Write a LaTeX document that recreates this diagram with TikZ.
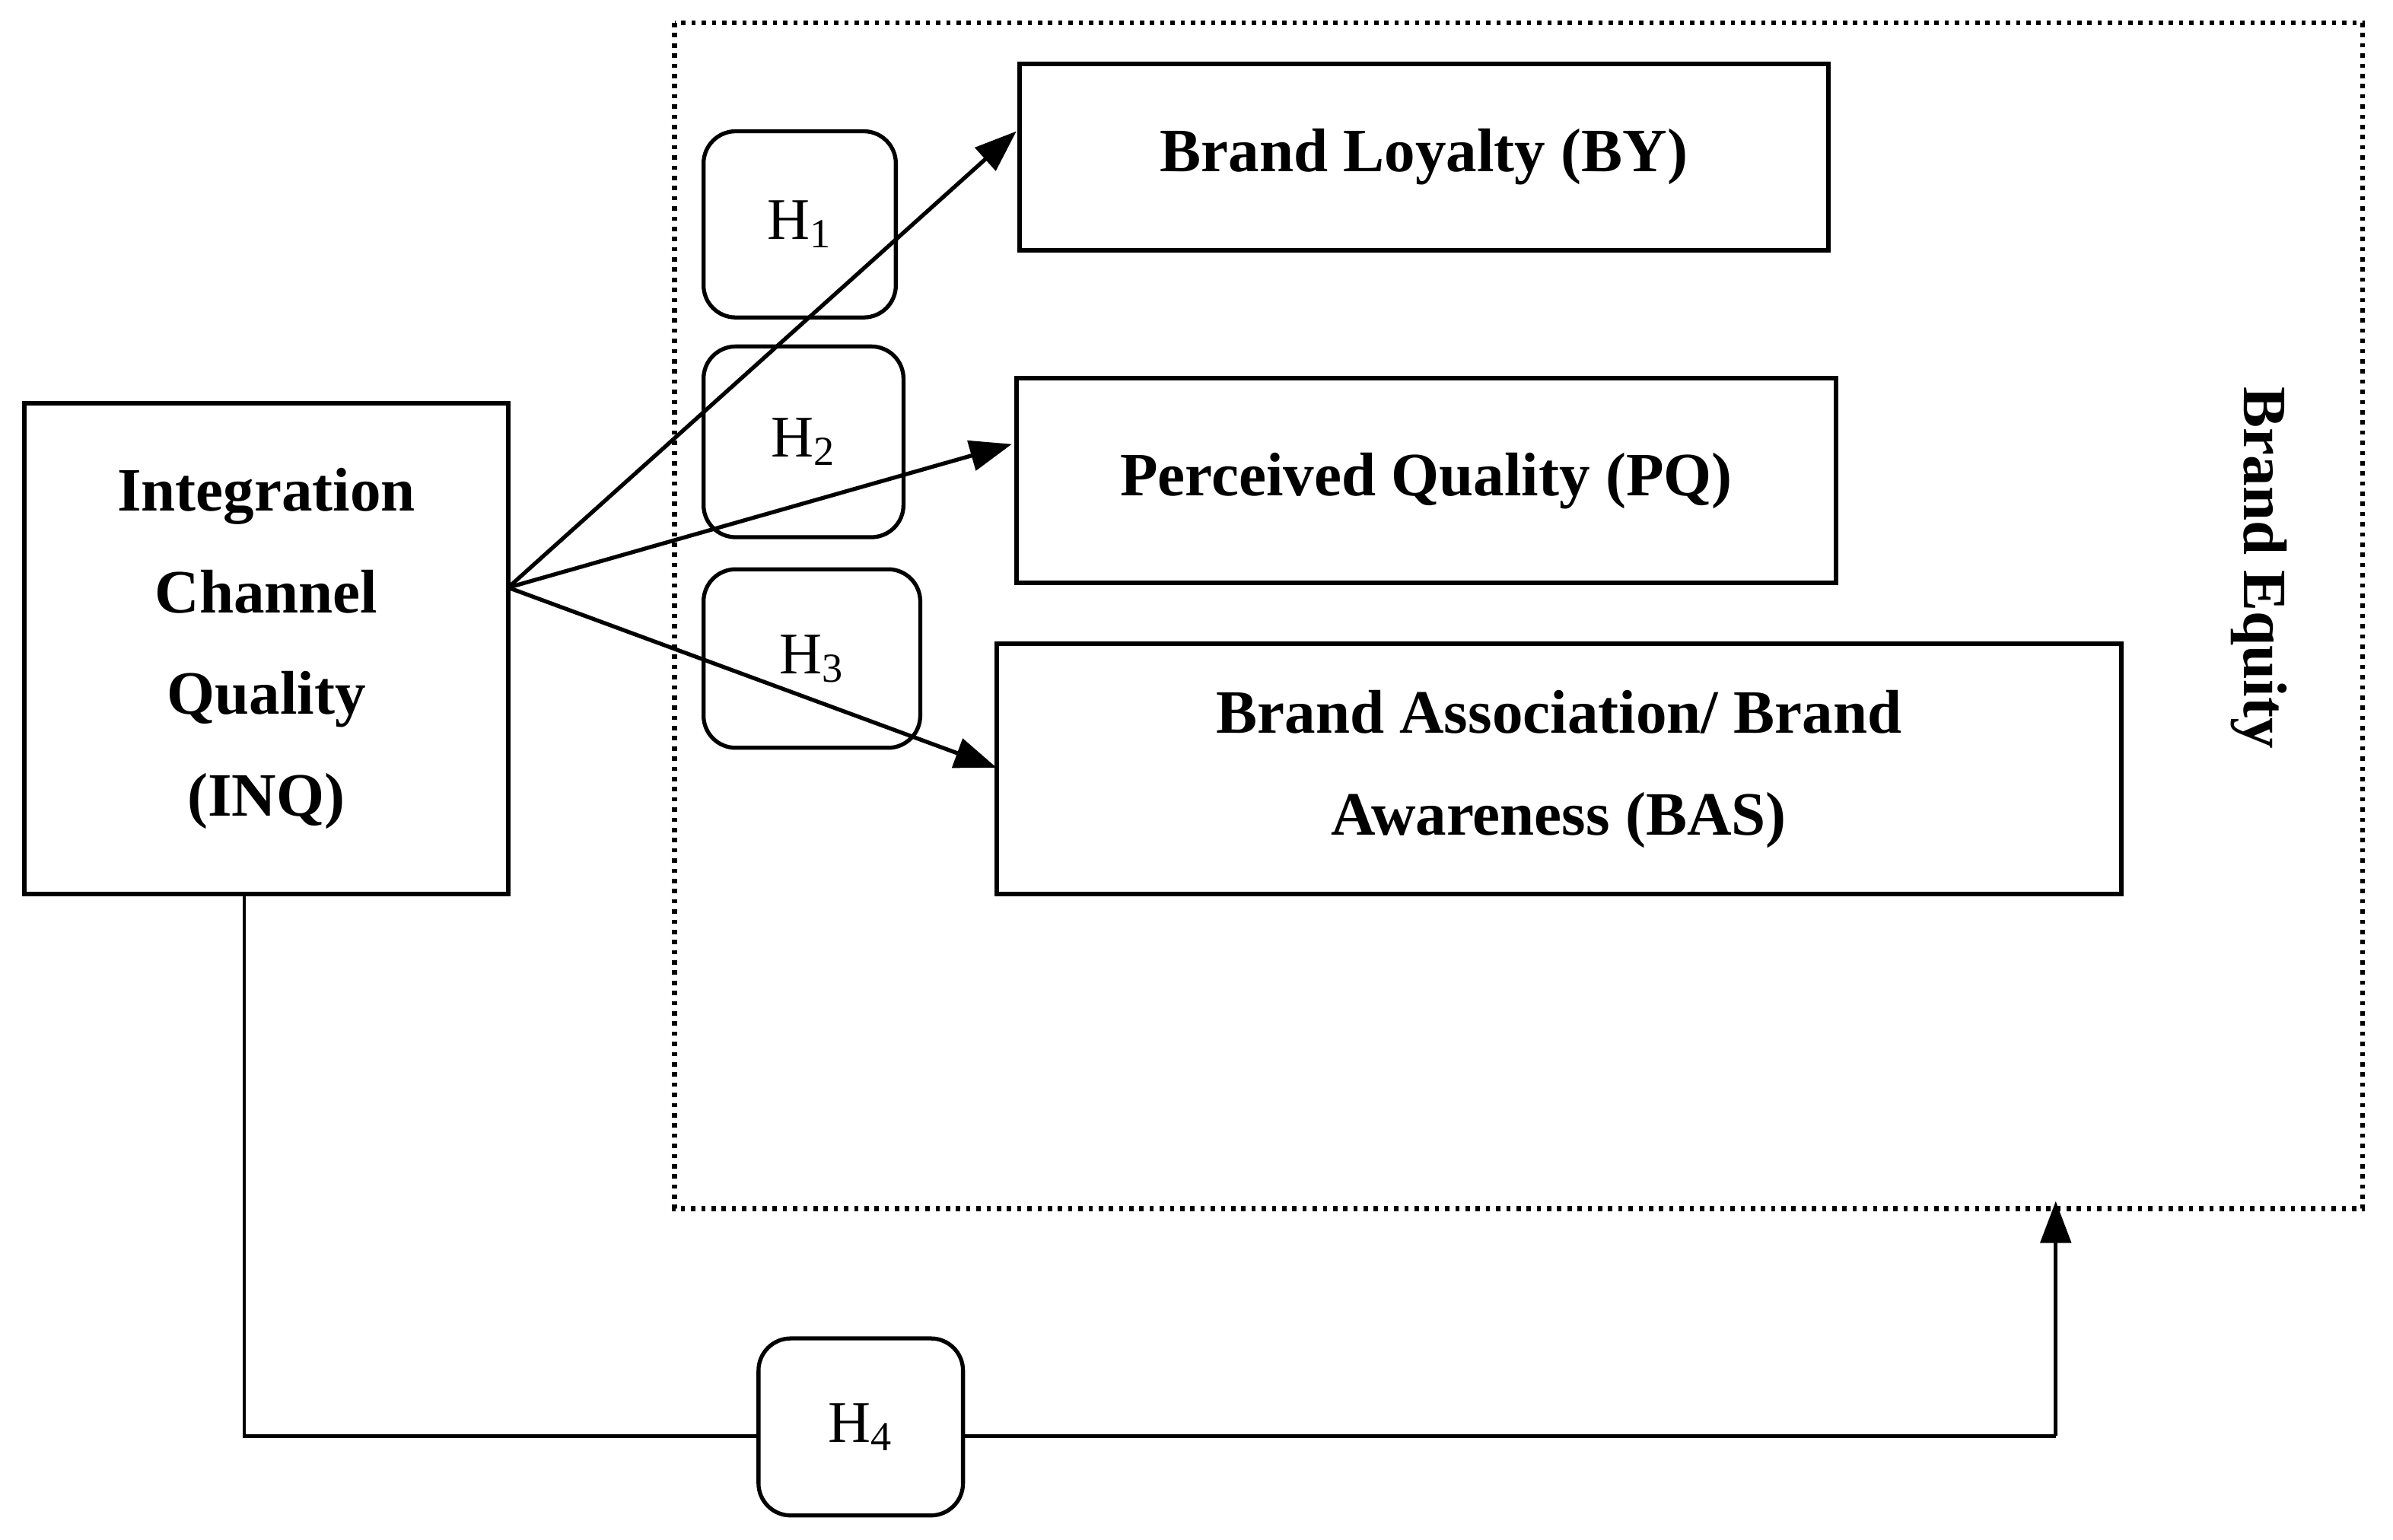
\documentclass[tikz,border=0pt]{standalone}
\usepackage{fontspec}
\setmainfont{Liberation Serif}
\usetikzlibrary{arrows.meta}
\begin{document}
\begin{tikzpicture}[x=0.02cm,y=-0.02cm,
 box/.style={draw,line width=1.7pt,rectangle,inner sep=0pt,font=\fontsize{23}{38}\selectfont\bfseries,align=center},
 hyp/.style={draw,line width=1.5pt,rounded corners=12pt,inner sep=0pt,font=\fontsize{22}{26}\selectfont},
 arr/.style={line width=1.5pt,-{Triangle[length=0.55cm,width=0.4cm]}}]
\useasboundingbox (0,0) rectangle (1568,1009);
\draw[line width=1.9pt,dash pattern=on 1.6pt off 2.2pt] (442,15) rectangle (1548,792);
\node[box,minimum width=530*0.02cm,minimum height=122*0.02cm] (by) at (933,103) {Brand Loyalty (BY)};
\node[box,minimum width=537*0.02cm,minimum height=134*0.02cm] (pq) at (934.5,315) {Perceived Quality (PQ)};
\node[box,minimum width=737*0.02cm,minimum height=164*0.02cm] (bas) at (1021.5,504) {Brand Association/ Brand\\Awareness (BAS)};
\node[box,minimum width=317*0.02cm,minimum height=322*0.02cm] (inq) at (174.5,425) {Integration\\Channel\\Quality\\(INQ)};
\node[hyp,minimum width=126*0.02cm,minimum height=122*0.02cm] (h1) at (524,147) {H\textsubscript{1}};
\node[hyp,minimum width=131*0.02cm,minimum height=125*0.02cm] (h2) at (526.5,289.5) {H\textsubscript{2}};
\node[hyp,minimum width=142*0.02cm,minimum height=117*0.02cm] (h3) at (532,431.5) {H\textsubscript{3}};
\node[hyp,minimum width=134*0.02cm,minimum height=116*0.02cm] (h4) at (564,935) {H\textsubscript{4}};
\node[rotate=-90,font=\fontsize{23}{26}\selectfont\bfseries] (be) at (1480,372) {Brand Equity};
\coordinate (src) at (333,385);
\coordinate (t1) at (666,86);
\coordinate (t2) at (663,291);
\coordinate (t3) at (653,503);
\draw[arr] (src) -- (t1);
\draw[arr] (src) -- (t2);
\draw[arr] (src) -- (t3);
\coordinate (c1) at (160,941);
\coordinate (c2) at (1347,941);
\coordinate (c3) at (1347,787);
\draw[line width=1.2pt] (inq.south -| c1) -- (c1) -- (c1 -| h4.west);
\draw[line width=1.2pt] (c2 -| h4.east) -- (c2);
\draw[arr] (c2) -- (c3);
\end{tikzpicture}
\end{document}
